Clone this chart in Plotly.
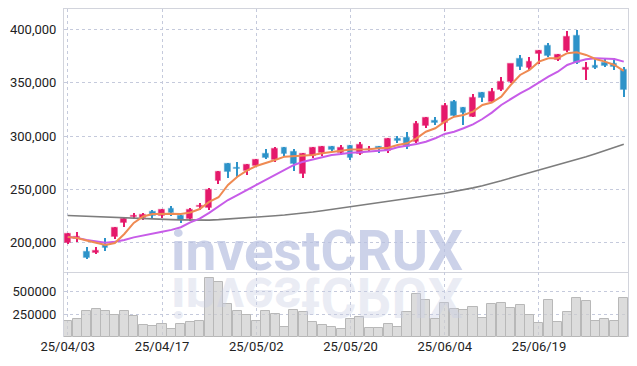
import plotly.graph_objects as go

dates = ["25/04/03","25/04/04","25/04/07","25/04/08","25/04/09","25/04/10","25/04/11","25/04/14","25/04/15","25/04/16",
         "25/04/17","25/04/18","25/04/21","25/04/22","25/04/23","25/04/24","25/04/25","25/04/28","25/04/29","25/04/30",
         "25/05/02","25/05/07","25/05/08","25/05/09","25/05/12","25/05/13","25/05/14","25/05/15","25/05/16","25/05/19",
         "25/05/20","25/05/21","25/05/22","25/05/23","25/05/26","25/05/27","25/05/28","25/05/29","25/05/30","25/06/02",
         "25/06/04","25/06/05","25/06/09","25/06/10","25/06/11","25/06/12","25/06/13","25/06/16","25/06/17","25/06/18",
         "25/06/19","25/06/20","25/06/23","25/06/24","25/06/25","25/06/26","25/06/27","25/06/30","25/07/01","25/07/02"]

opens = [200000,203800,191500,190600,197800,205600,218200,224500,223400,229100,
         225000,232000,225300,222000,233300,232300,257900,273500,270300,267500,
         272200,283200,277600,289100,285100,264200,281600,283900,289500,283900,
         290700,282900,287500,289500,286300,297300,297900,294700,309700,314400,
         312600,332300,326600,318200,340100,332300,343200,350500,372300,363600,
         376700,384500,371400,380100,393900,362000,366000,368800,367300,362000]
highs = [209000,210300,195700,195700,204100,215000,222900,228100,227600,230500,
         231500,234000,226000,232300,237000,251000,267500,275000,276000,273500,
         278500,287600,289500,289500,287600,284400,290000,290500,291000,292000,
         291600,294700,290700,290700,297900,300100,304100,314400,318200,318200,
         331300,333500,327600,339500,341600,344800,355700,368000,376100,374500,
         380500,387000,377000,398900,399500,369800,373000,373000,373000,365100]
lows = [199000,200400,184700,189400,192200,203200,215000,221900,221000,223400,
        223500,225000,218200,220600,230700,230700,255100,261000,261900,263500,
        271000,278200,276000,281000,267500,260400,279700,281000,285500,282500,
        277600,282300,285400,283900,283900,293200,287600,293800,307300,310400,
        305100,318200,310400,317600,332300,331300,342600,349800,362000,362000,
        367300,373900,370000,379100,367600,352600,362900,365000,362000,337000]
closes = [208000,205600,185900,192500,195300,213500,221900,225300,226000,225000,
          230700,227500,221500,230700,234500,249400,266600,266600,269300,272900,
          277600,279700,287600,283200,273500,283200,289100,290000,287000,288600,
          279200,291600,288300,287600,297000,295400,289500,311300,317300,312000,
          328500,319100,321400,336000,336000,341100,350500,367300,364500,369200,
          379800,375400,376100,392700,368300,363600,364200,366000,365100,343200]
volumes = [179000,197000,288000,310000,288000,245000,288000,234000,135000,124000,
           146000,91000,146000,160000,171000,647000,606000,365000,288000,245000,
           179000,288000,256000,110000,299000,270000,168000,135000,110000,88000,
           197000,219000,99000,99000,143000,110000,274000,475000,406000,197000,
           373000,307000,299000,329000,208000,362000,373000,318000,351000,245000,
           154000,406000,164000,274000,428000,395000,179000,197000,179000,428000]
ma_short = [205300,204400,202100,199700,197800,199700,208200,218500,224600,226900,
            227200,227200,226900,228300,231600,238200,242600,254100,261900,267500,
            271900,274500,277600,280700,281300,282000,282300,283900,285400,286300,
            287300,287600,287600,288600,289100,291600,293200,297900,304100,307300,
            313500,318200,319800,322900,329200,331500,337000,347900,357300,362000,
            369800,373000,373000,377700,378600,376100,372300,369800,366700,361100]
ma_mid = [205600,204500,202500,201000,200000,200800,202500,205000,207000,208500,
          210300,212000,214500,219000,222500,228000,234000,240000,244700,249400,
          254100,258800,263500,268200,272900,276000,278200,280700,282300,283200,
          284400,284800,285400,286000,287000,289500,290700,292600,294700,297900,
          302000,304100,307300,311000,316000,322000,329200,334800,340100,344800,
          350500,355700,360400,366700,369800,372000,373000,373000,372300,369800]
ma_long = [225500,225100,224700,224300,223800,223400,223000,222700,222400,222100,
           221800,221600,221400,221200,221000,221200,221600,222100,222600,223200,
           223800,224500,225300,226000,226800,227600,228800,230000,231300,232500,
           233800,235100,236400,237800,239100,240400,241800,243100,244200,245200,
           246300,247800,249400,251400,253400,255500,258000,260600,263100,265700,
           268200,270600,272900,275300,277600,280500,283500,286400,289400,292300]
price_ticks = [200000, 250000, 300000, 350000, 400000]
volume_ticks = [250000, 500000]
date_ticks = ["25/04/03", "25/04/17", "25/05/02", "25/05/20", "25/06/04", "25/06/19"]
watermark = "investCRUX"

UP = "#E5196B"
DN = "#2D93C9"
up = [c >= o for o, c in zip(opens, closes)]
body_col = [UP if u else DN for u in up]
body_line = ["rgba(229,25,107,0.35)" if u else "rgba(45,147,201,0.35)" for u in up]
body_base = [min(o, c) for o, c in zip(opens, closes)]
body_h = [max(abs(c - o), 700) for o, c in zip(opens, closes)]
wick_h = [h - l for h, l in zip(highs, lows)]

fig = go.Figure()
fig.add_trace(go.Bar(x=dates, y=volumes, width=0.96, xaxis="x2", yaxis="y2",
                     marker=dict(color="rgba(205,205,205,0.7)", line=dict(color="#b8b8b8", width=1)),
                     showlegend=False))
fig.add_trace(go.Scatter(x=dates, y=ma_long, mode="lines", line=dict(color="#7d7d7d", width=1.6), showlegend=False))
fig.add_trace(go.Bar(x=dates, y=wick_h, base=lows, width=0.13, marker=dict(color=body_col, line=dict(width=0)),
                     showlegend=False))
fig.add_trace(go.Bar(x=dates, y=body_h, base=body_base, width=0.62,
                     marker=dict(color=body_col, line=dict(color=body_line, width=1.2)), showlegend=False))
fig.add_trace(go.Scatter(x=dates, y=ma_mid, mode="lines", line=dict(color="#C75CE8", width=2), showlegend=False))
fig.add_trace(go.Scatter(x=dates, y=ma_short, mode="lines", line=dict(color="#EF8A52", width=2), showlegend=False))

tick_font = dict(family="Roboto", size=13, color="#222222")
grid = dict(showgrid=True, gridcolor="#c5cadc", gridwidth=1, griddash="dot", automargin=False)
split = 65 / 328

fig.update_layout(
    width=637, height=366,
    margin=dict(l=64, r=9, t=9, b=29, autoexpand=False),
    paper_bgcolor="white", plot_bgcolor="white",
    barmode="overlay", bargap=0,
    showlegend=False,
    xaxis=dict(type="category", range=[-0.4, 59.45], anchor="y", tickvals=date_ticks, showticklabels=False,
               showline=True, mirror=True, linecolor="#d2d4dc", linewidth=1, zeroline=False, **grid),
    xaxis2=dict(type="category", matches="x", anchor="y2", tickvals=date_ticks, tickfont=tick_font,
                showline=False, zeroline=False, ticks="", **grid),
    yaxis=dict(domain=[split, 1], range=[172500, 419200], tickvals=price_ticks, tickformat=",",
               tickfont=tick_font, showline=True, mirror=True, linecolor="#d2d4dc", linewidth=1,
               zeroline=False, ticks="outside", ticklen=4, tickcolor="rgba(0,0,0,0)", **grid),
    yaxis2=dict(domain=[0, split], range=[0, 716000], tickvals=volume_ticks, tickformat="d",
                tickfont=tick_font, showline=True, mirror=True, linecolor="#d2d4dc", linewidth=1,
                zeroline=False, ticks="outside", ticklen=4, tickcolor="rgba(0,0,0,0)", **grid),
    annotations=[
        dict(text="<b>" + watermark + "</b>", xref="paper", yref="paper", x=0.448, y=(337 - 251) / 328,
             xanchor="center", yanchor="middle", showarrow=False,
             font=dict(family="Roboto", size=55, color="rgba(184,193,224,0.72)")),
        dict(text="<b>" + watermark + "</b>", xref="paper", yref="paper", x=0.448, y=(337 - 297) / 328,
             xanchor="center", yanchor="middle", showarrow=False,
             font=dict(family="Roboto", size=55, color="rgba(200,206,228,0.38)")),
    ],
)

flip_js = """
document.body.style.margin = '0';
document.body.style.padding = '0';
var gd = document.getElementById('{plot_id}');
function flipMark(){
  var anns = gd.querySelectorAll('g.annotation');
  if (anns.length < 2) return;
  var t = anns[1].querySelector('text');
  t.style.transformBox = 'fill-box';
  t.style.transformOrigin = '50% 50%';
  t.style.transform = 'scaleY(-1)';
}
flipMark();
gd.on('plotly_afterplot', flipMark);
"""

fig.write_html("out.html", post_script=flip_js, config={"displayModeBar": False})
